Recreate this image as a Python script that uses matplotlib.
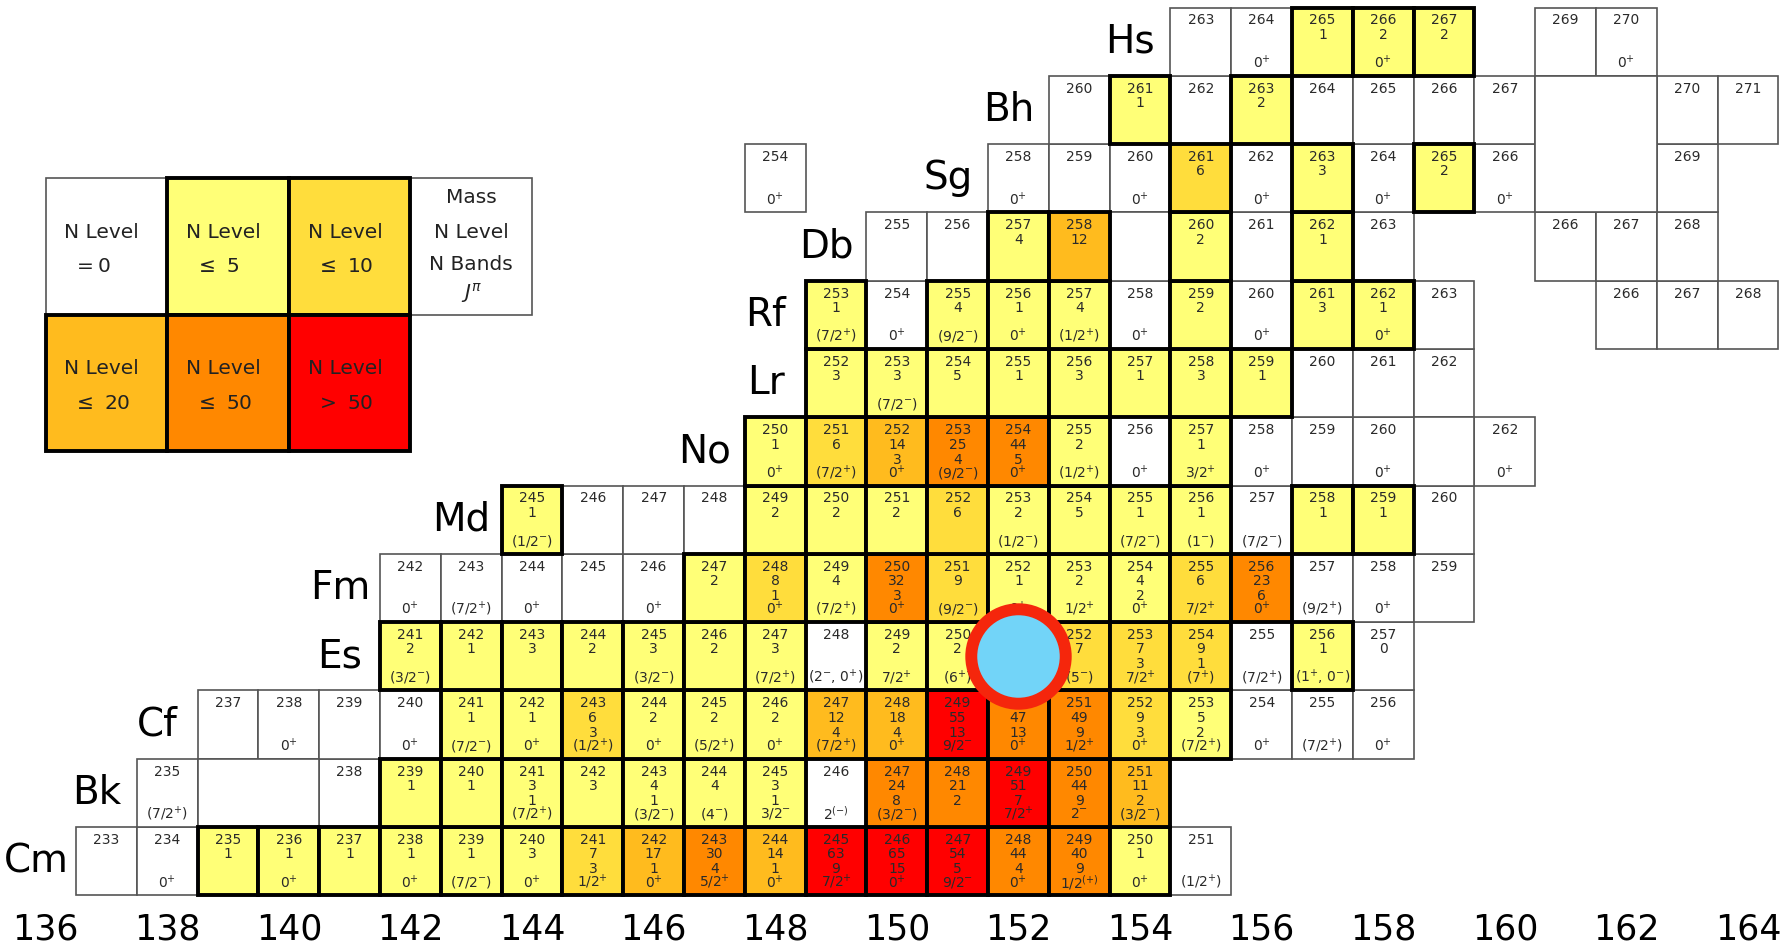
import matplotlib.pyplot as plt
from matplotlib.patches import Rectangle

# each cell: (mass, number of levels, number of bands, J^pi)
cm = [(233, None, None, ''), (234, None, None, '0+'), (235, 1, None, ''),
      (236, 1, None, '0+'), (237, 1, None, ''), (238, 1, None, '0+'),
      (239, 1, None, '(7/2-)'), (240, 3, None, '0+'), (241, 7, 3, '1/2+'),
      (242, 17, 1, '0+'), (243, 30, 4, '5/2+'), (244, 14, 1, '0+'),
      (245, 63, 9, '7/2+'), (246, 65, 15, '0+'), (247, 54, 5, '9/2-'),
      (248, 44, 4, '0+'), (249, 40, 9, '1/2(+)'), (250, 1, None, '0+'),
      (251, None, None, '(1/2+)')]
bk = [(235, None, None, '(7/2+)'), (238, None, None, ''), (239, 1, None, ''),
      (240, 1, None, ''), (241, 3, 1, '(7/2+)'), (242, 3, None, ''),
      (243, 4, 1, '(3/2-)'), (244, 4, None, '(4-)'), (245, 3, 1, '3/2-'),
      (246, None, None, '2(-)'), (247, 24, 8, '(3/2-)'), (248, 21, 2, ''),
      (249, 51, 7, '7/2+'), (250, 44, 9, '2-'), (251, 11, 2, '(3/2-)')]
cf = [(237, None, None, ''), (238, None, None, '0+'), (239, None, None, ''),
      (240, None, None, '0+'), (241, 1, None, '(7/2-)'), (242, 1, None, '0+'),
      (243, 6, 3, '(1/2+)'), (244, 2, None, '0+'), (245, 2, None, '(5/2+)'),
      (246, 2, None, '0+'), (247, 12, 4, '(7/2+)'), (248, 18, 4, '0+'),
      (249, 55, 13, '9/2-'), (250, 47, 13, '0+'), (251, 49, 9, '1/2+'),
      (252, 9, 3, '0+'), (253, 5, 2, '(7/2+)'), (254, None, None, '0+'),
      (255, None, None, '(7/2+)'), (256, None, None, '0+')]
es = [(241, 2, None, '(3/2-)'), (242, 1, None, ''), (243, 3, None, ''),
      (244, 2, None, ''), (245, 3, None, '(3/2-)'), (246, 2, None, ''),
      (247, 3, None, '(7/2+)'), (248, None, None, '(2-, 0+)'), (249, 2, None, '7/2+'),
      (250, 2, None, '(6+)'), (251, 3, None, '(3/2-)'), (252, 7, None, '(5-)'),
      (253, 7, 3, '7/2+'), (254, 9, 1, '(7+)'), (255, None, None, '(7/2+)'),
      (256, 1, None, '(1+, 0-)'), (257, 0, None, '')]
fm = [(242, None, None, '0+'), (243, None, None, '(7/2+)'), (244, None, None, '0+'),
      (245, None, None, ''), (246, None, None, '0+'), (247, 2, None, ''),
      (248, 8, 1, '0+'), (249, 4, None, '(7/2+)'), (250, 32, 3, '0+'),
      (251, 9, None, '(9/2-)'), (252, 1, None, '0+'), (253, 2, None, '1/2+'),
      (254, 4, 2, '0+'), (255, 6, None, '7/2+'), (256, 23, 6, '0+'),
      (257, None, None, '(9/2+)'), (258, None, None, '0+'), (259, None, None, '')]
md = [(245, 1, None, '(1/2-)'), (246, None, None, ''), (247, None, None, ''),
      (248, None, None, ''), (249, 2, None, ''), (250, 2, None, ''),
      (251, 2, None, ''), (252, 6, None, ''), (253, 2, None, '(1/2-)'),
      (254, 5, None, ''), (255, 1, None, '(7/2-)'), (256, 1, None, '(1-)'),
      (257, None, None, '(7/2-)'), (258, 1, None, ''), (259, 1, None, ''),
      (260, None, None, '')]
no = [(250, 1, None, '0+'), (251, 6, None, '(7/2+)'), (252, 14, 3, '0+'),
      (253, 25, 4, '(9/2-)'), (254, 44, 5, '0+'), (255, 2, None, '(1/2+)'),
      (256, None, None, '0+'), (257, 1, None, '3/2+'), (258, None, None, '0+'),
      (259, None, None, ''), (260, None, None, '0+'), (262, None, None, '0+')]
lr = [(252, 3, None, ''), (253, 3, None, '(7/2-)'), (254, 5, None, ''),
      (255, 1, None, ''), (256, 3, None, ''), (257, 1, None, ''),
      (258, 3, None, ''), (259, 1, None, ''), (260, None, None, ''),
      (261, None, None, ''), (262, None, None, '')]
rf = [(253, 1, None, '(7/2+)'), (254, None, None, '0+'), (255, 4, None, '(9/2-)'),
      (256, 1, None, '0+'), (257, 4, None, '(1/2+)'), (258, None, None, '0+'),
      (259, 2, None, ''), (260, None, None, '0+'), (261, 3, None, ''),
      (262, 1, None, '0+'), (263, None, None, ''), (266, None, None, ''),
      (267, None, None, ''), (268, None, None, '')]
db = [(255, None, None, ''), (256, None, None, ''), (257, 4, None, ''),
      (258, 12, None, ''), (260, 2, None, ''), (261, None, None, ''),
      (262, 1, None, ''), (263, None, None, ''), (266, None, None, ''),
      (267, None, None, ''), (268, None, None, '')]
sg = [(254, None, None, '0+'), (258, None, None, '0+'), (259, None, None, ''),
      (260, None, None, '0+'), (261, 6, None, ''), (262, None, None, '0+'),
      (263, 3, None, ''), (264, None, None, '0+'), (265, 2, None, ''),
      (266, None, None, '0+'), (269, None, None, '')]
bh = [(260, None, None, ''), (261, 1, None, ''), (262, None, None, ''),
      (263, 2, None, ''), (264, None, None, ''), (265, None, None, ''),
      (266, None, None, ''), (267, None, None, ''), (270, None, None, ''),
      (271, None, None, '')]
hs = [(263, None, None, ''), (264, None, None, '0+'), (265, 1, None, ''),
      (266, 2, None, '0+'), (267, 2, None, ''), (269, None, None, ''),
      (270, None, None, '0+')]

elements = ['Cm', 'Bk', 'Cf', 'Es', 'Fm', 'Md', 'No', 'Lr', 'Rf', 'Db', 'Sg', 'Bh', 'Hs']
z_values = [96, 97, 98, 99, 100, 101, 102, 103, 104, 105, 106, 107, 108]
rows = [cm, bk, cf, es, fm, md, no, lr, rf, db, sg, bh, hs]

# empty boxes without text: (Z, first N, width, height)
empty_boxes = [(97, 139, 2, 1), (105, 154, 1, 1), (102, 159, 1, 1), (106, 161, 2, 2)]
label_start = {'Sg': 152}       # Sg label sits next to the main run, not the lone 254
marked = ('Es', 251)             # cell hidden by the marker

ticks = list(range(136, 165, 2))

level_bins = [0, 5, 10, 20, 50]
level_colors = ['white', '#FFFF77', '#FFDD3C', '#FFBB1E', '#FF8800', '#FF0000']
legend_text = ['$=0$', '$\\leq$ 5', '$\\leq$ 10', '$\\leq$ 20', '$\\leq$ 50', '$>$ 50']


def color_of(n):
    if n is None:
        return level_colors[0]
    for i, b in enumerate(level_bins):
        if n <= b:
            return level_colors[i]
    return level_colors[-1]


def fmt_j(s):
    s = s.replace('(+)', '@P').replace('(-)', '@M')
    s = s.replace('+', '$^{+}$').replace('-', '$^{-}$')
    return s.replace('@P', '$^{(+)}$').replace('@M', '$^{(-)}$')


fig = plt.figure(figsize=(17.87, 9.5), dpi=100)
ax = fig.add_axes([0, 50 / 950, 1, 900 / 950])
ax.set_xlim(135.25, 164.64)
ax.set_ylim(95.43, 108.61)

thin = dict(lw=1.2, ec='#555555')
thick = dict(lw=2.8, ec='black')
txt = dict(ha='center', va='center', fontsize=10, color='#2a2a2a')

for el, z, cells in zip(elements, z_values, rows):
    for mass, lev, bands, jpi in cells:
        n = mass - z
        col = color_of(lev)
        style = thin if col == 'white' else thick
        ax.add_patch(Rectangle((n - 0.5, z - 0.5), 1, 1, fc=col,
                               zorder=1 if col == 'white' else 2, **style))
        ax.text(n, z + 0.31, str(mass), zorder=4, **txt)
        if lev is not None:
            ax.text(n, z + 0.10, str(lev), zorder=4, **txt)
        if bands is not None:
            ax.text(n, z - 0.12, str(bands), zorder=4, **txt)
        if jpi:
            ax.text(n, z - 0.31, fmt_j(jpi), zorder=4, **txt)
    first = label_start.get(el, cells[0][0] - z)
    ax.text(first - 1.16, z, el, ha='center', va='center', fontsize=28)

for z, n, w, h in empty_boxes:
    ax.add_patch(Rectangle((n - 0.5, z - 0.5), w, h, fc='white', zorder=1, **thin))

# marker circle on top
mz = z_values[elements.index(marked[0])]
ax.plot(marked[1] - mz, mz, 'o', ms=68, mfc='#72D4F8', mec='#F5260C', mew=8.6, zorder=10)

# legend boxes
lx, lz = 136, 106
for i in range(6):
    r, c = divmod(i, 3)
    x0, top = lx + 2 * c, lz - 2 * r
    col = level_colors[i]
    style = thin if i == 0 else thick
    ax.add_patch(Rectangle((x0, top - 2), 2, 2, fc=col, zorder=2 if i else 1, **style))
    ax.text(x0 + 0.31, top - 0.79, 'N Level', ha='left', va='center', fontsize=14.5, color='#222222')
    ax.text(x0 + 0.45, top - 1.30, legend_text[i], ha='left', va='center', fontsize=14.5, color='#222222')
ax.add_patch(Rectangle((lx + 6, lz - 2), 2, 2, fc='white', **thin))
for dz, s in zip([0.28, 0.79, 1.27, 1.68], ['Mass', 'N Level', 'N Bands', '$J^{\\pi}$']):
    ax.text(lx + 7, lz - dz, s, ha='center', va='center', fontsize=14.5, color='#222222')

ax.set_xticks(ticks)
ax.set_xticklabels([str(t) for t in ticks], fontsize=25)
ax.tick_params(axis='x', length=0, pad=9)
ax.set_yticks([])
for sp in ax.spines.values():
    sp.set_visible(False)

fig.savefig('out.png', dpi=100)
